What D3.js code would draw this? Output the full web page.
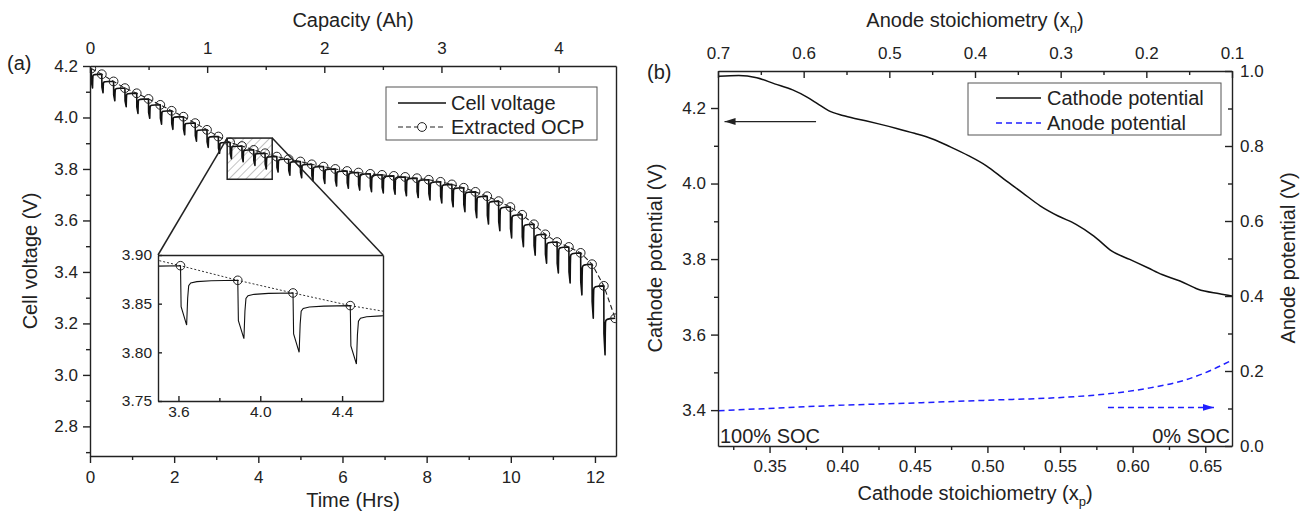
<!DOCTYPE html>
<html>
<head>
<meta charset="utf-8">
<script src="https://cdn.jsdelivr.net/npm/d3@7"></script>
<style>
  body { margin: 0; background: #fff; }
  svg { display: block; }
</style>
</head>
<body>
<div id="chart"></div>
<script>
// ---------- panel (a): GITT discharge ----------
// time (hrs) of each OCP point (one per rest, last one at the end of test)
const ocpTime = [0.03, 0.28, 0.56, 0.83, 1.11, 1.39, 1.67, 1.94, 2.22, 2.50,
  2.78, 3.05, 3.33, 3.61, 3.89, 4.16, 4.44, 4.72, 5.00, 5.27,
  5.55, 5.83, 6.11, 6.38, 6.66, 6.94, 7.22, 7.49, 7.77, 8.05,
  8.33, 8.60, 8.88, 9.16, 9.44, 9.71, 9.99, 10.27, 10.55, 10.82,
  11.10, 11.38, 11.66, 11.93, 12.21, 12.48]
const ocpVolt = [4.190, 4.168, 4.140, 4.114, 4.094, 4.072, 4.049, 4.026, 4.003, 3.978,
  3.952, 3.926, 3.903, 3.889, 3.874, 3.861, 3.848, 3.838, 3.829, 3.818,
  3.809, 3.800, 3.792, 3.786, 3.781, 3.777, 3.773, 3.769, 3.764, 3.758,
  3.750, 3.740, 3.727, 3.711, 3.694, 3.675, 3.652, 3.622, 3.585, 3.546,
  3.516, 3.497, 3.474, 3.430, 3.346, 3.220]
// lowest voltage reached during each current pulse
const pulseMin = [4.115, 4.096, 4.065, 4.042, 4.016, 3.997, 3.974, 3.954, 3.933, 3.908,
  3.884, 3.861, 3.840, 3.828, 3.814, 3.800, 3.788, 3.776, 3.766, 3.754,
  3.744, 3.734, 3.725, 3.718, 3.712, 3.707, 3.702, 3.696, 3.689, 3.680,
  3.668, 3.653, 3.634, 3.611, 3.586, 3.560, 3.532, 3.498, 3.465, 3.434,
  3.396, 3.357, 3.311, 3.220, 3.078]
// pulse / relaxation shape (hrs after pulse start, fraction of step)
const dropDt = [0, 0.003, 0.030]
const dropFrac = [0, 0.69, 1]
const relaxDt = [0.035, 0.040, 0.050, 0.080, 0.150]
const relaxFrac = [0.60, 0.88, 0.94, 0.97, 0.99]

const timeTicks = [0, 2, 4, 6, 8, 10, 12]
const timeMinor = [1, 3, 5, 7, 9, 11]
const capTicks = [0, 1, 2, 3, 4]
const capMinor = [0.5, 1.5, 2.5, 3.5]
const voltTicks = [2.8, 3.0, 3.2, 3.4, 3.6, 3.8, 4.0, 4.2]
const voltMinor = [2.7, 2.9, 3.1, 3.3, 3.5, 3.7, 3.9, 4.1]
const zoomTime = [3.26, 4.33]
const zoomVolt = [3.76, 3.92]
const insetTime = [3.5, 4.6]
const insetVolt = [3.75, 3.90]
const insetTimeTicks = [3.6, 4.0, 4.4]
const insetTimeMinor = [3.8, 4.2]
const insetVoltTicks = [3.75, 3.80, 3.85, 3.90]

// ---------- panel (b): electrode potentials ----------
const cathX = [0.3152, 0.3288, 0.3412, 0.3535, 0.3659, 0.3758, 0.3832, 0.3906, 0.4004, 0.4128,
  0.4251, 0.4375, 0.4498, 0.4622, 0.4745, 0.4869, 0.4993, 0.5116, 0.5240, 0.5363,
  0.5487, 0.5610, 0.5733, 0.5857, 0.5980, 0.6104, 0.6202, 0.6326, 0.6450, 0.6598, 0.6684]
const cathV = [4.284, 4.286, 4.280, 4.264, 4.248, 4.229, 4.211, 4.193, 4.180, 4.169,
  4.158, 4.146, 4.133, 4.118, 4.097, 4.074, 4.047, 4.011, 3.976, 3.941,
  3.914, 3.892, 3.861, 3.821, 3.799, 3.777, 3.759, 3.742, 3.720, 3.708, 3.702]
const anodeX = [0.3149, 0.3486, 0.4013, 0.4510, 0.4998, 0.5534, 0.5827, 0.6120, 0.6354, 0.6498, 0.6684]
const anodeV = [0.094, 0.100, 0.109, 0.115, 0.122, 0.130, 0.139, 0.155, 0.175, 0.195, 0.229]
const cathTicks = [0.35, 0.40, 0.45, 0.50, 0.55, 0.60, 0.65]
const cathMinor = [0.325, 0.375, 0.425, 0.475, 0.525, 0.575, 0.625]
const anTicks = [0.7, 0.6, 0.5, 0.4, 0.3, 0.2, 0.1]
const anMinor = [0.65, 0.55, 0.45, 0.35, 0.25, 0.15]
const cathVTicks = [3.4, 3.6, 3.8, 4.0, 4.2]
const cathVMinor = [3.5, 3.7, 3.9, 4.1]
const anVTicks = [0.0, 0.2, 0.4, 0.6, 0.8, 1.0]
const anVMinor = [0.1, 0.3, 0.5, 0.7, 0.9]
const cathArrowX = [0.382, 0.319], cathArrowV = 4.164
const anodeArrowX = [0.583, 0.656], anodeArrowV = 0.103

// ---------- setup ----------
const W = 1303, H = 513
const ink = '#222'
const blue = '#1f1fff'
const font = '"Liberation Sans", Arial, sans-serif'

const svg = d3.select('#chart').append('svg')
  .attr('width', W).attr('height', H)
  .attr('font-family', font)
svg.append('rect').attr('width', W).attr('height', H).attr('fill', '#fff')

const xTime = d3.scaleLinear([0, 12.5], [90, 616])
const xCap = d3.scaleLinear([0, 4.49], [90, 616])
const yVolt = d3.scaleLinear([2.685, 4.2], [456, 66])
const xIn = d3.scaleLinear(insetTime, [158, 383])
const yIn = d3.scaleLinear(insetVolt, [401, 255])

const xCath = d3.scaleLinear([0.3145, 0.6684], [718, 1232])
const xAn = d3.scaleLinear([0.7, 0.1], [718, 1232])
const yCath = d3.scaleLinear([3.305, 4.298], [446, 71])
const yAn = d3.scaleLinear([0, 1], [446, 71])

const defs = svg.append('defs')
const clip = (id, x, y) => defs.append('clipPath').attr('id', id).append('rect')
  .attr('x', x[0]).attr('y', y[1]).attr('width', x[1] - x[0]).attr('height', y[0] - y[1])
clip('clipA', xTime.range(), yVolt.range())
clip('clipIn', xIn.range(), yIn.range())
clip('clipB', xCath.range(), yCath.range())

const hatch = defs.append('pattern').attr('id', 'hatch')
  .attr('patternUnits', 'userSpaceOnUse').attr('width', 6).attr('height', 6)
  .attr('patternTransform', 'rotate(45)')
hatch.append('line').attr('x1', 0).attr('y1', 0).attr('x2', 0).attr('y2', 6)
  .attr('stroke', '#9a9a9a').attr('stroke-width', 1.2)

const marker = (id, color) => defs.append('marker').attr('id', id)
  .attr('markerUnits', 'userSpaceOnUse').attr('markerWidth', 12).attr('markerHeight', 8)
  .attr('refX', 11).attr('refY', 4).attr('orient', 'auto')
  .append('path').attr('d', 'M0,0.5 L11,4 L0,7.5 z').attr('fill', color)
marker('arrowK', ink)
marker('arrowB', blue)

// axis helper: outward / inward ticks with minor ticks
function axis(orient, scale, tr, major, minor, inward, fmt, pad, size = 17, len = 7, mlen = 4) {
  const s = inward ? -1 : 1
  const g = svg.append('g').attr('transform', tr)
  g.call(orient(scale).tickValues(major).tickSizeInner(s * len).tickSizeOuter(0)
    .tickPadding(pad).tickFormat(fmt))
  if (minor.length) {
    g.append('g').call(orient(scale).tickValues(minor).tickSizeInner(s * mlen)
      .tickSizeOuter(0).tickFormat(''))
      .call(m => m.select('.domain').remove())
  }
  g.attr('font-size', size).attr('font-family', font)
  g.selectAll('.domain').attr('stroke', ink).attr('stroke-width', 1.4)
  g.selectAll('line').attr('stroke', ink).attr('stroke-width', 1.4)
  g.selectAll('text').attr('fill', ink)
  return g
}
const plain = (orient, scale, tr) => axis(orient, scale, tr, [], [], false, '', 0)

const f1 = d3.format('.1f'), f2 = d3.format('.2f'), f0 = d3.format('d')

// ---------- panel (a) ----------
// cell voltage trace built from OCP / pulse minima and the pulse shape
const cell = []
ocpTime.forEach((t, i) => {
  if (i === ocpTime.length - 1) { cell.push([t, ocpVolt[i]]); return }
  const v0 = ocpVolt[i], vm = pulseMin[i], v1 = ocpVolt[i + 1]
  dropDt.forEach((d, j) => cell.push([t + d, v0 - dropFrac[j] * (v0 - vm)]))
  relaxDt.forEach((d, j) => cell.push([t + d, vm + relaxFrac[j] * (v1 - vm)]))
})
const ocp = ocpTime.map((t, i) => [t, ocpVolt[i]])

// zoom rectangle (hatched)
svg.append('rect')
  .attr('x', xTime(zoomTime[0])).attr('y', yVolt(zoomVolt[1]))
  .attr('width', xTime(zoomTime[1]) - xTime(zoomTime[0]))
  .attr('height', yVolt(zoomVolt[0]) - yVolt(zoomVolt[1]))
  .attr('fill', 'url(#hatch)')

const pa = svg.append('g').attr('clip-path', 'url(#clipA)')
const lineA = d3.line().x(d => xTime(d[0])).y(d => yVolt(d[1]))
pa.append('path').attr('d', lineA(cell)).attr('fill', 'none')
  .attr('stroke', '#111').attr('stroke-width', 1.6).attr('stroke-linejoin', 'round')
pa.append('path').attr('d', lineA(ocp)).attr('fill', 'none')
  .attr('stroke', ink).attr('stroke-width', 1.1).attr('stroke-dasharray', '5,3')
pa.selectAll('circle').data(ocp).join('circle')
  .attr('cx', d => xTime(d[0])).attr('cy', d => yVolt(d[1])).attr('r', 4.4)
  .attr('fill', 'none').attr('stroke', ink).attr('stroke-width', 1)

svg.append('rect')
  .attr('x', xTime(zoomTime[0])).attr('y', yVolt(zoomVolt[1]))
  .attr('width', xTime(zoomTime[1]) - xTime(zoomTime[0]))
  .attr('height', yVolt(zoomVolt[0]) - yVolt(zoomVolt[1]))
  .attr('fill', 'none').attr('stroke', ink).attr('stroke-width', 1.5)

// connector lines to the inset
const conn = [[zoomTime[0], insetTime[0]], [zoomTime[1], insetTime[1]]]
svg.selectAll('.conn').data(conn).join('line')
  .attr('x1', d => xTime(d[0])).attr('y1', yVolt(zoomVolt[1]))
  .attr('x2', d => xIn(d[1])).attr('y2', yIn(insetVolt[1]))
  .attr('stroke', ink).attr('stroke-width', 1.5)

// axes (a)
axis(d3.axisBottom, xTime, `translate(0,${yVolt.range()[0]})`, timeTicks, timeMinor, false, f0, 8)
axis(d3.axisTop, xCap, `translate(0,${yVolt.range()[1]})`, capTicks, capMinor, true, f0, 12)
axis(d3.axisLeft, yVolt, `translate(${xTime.range()[0]},0)`, voltTicks, voltMinor, false, f1, 5)
plain(d3.axisRight, yVolt, `translate(${xTime.range()[1]},0)`)

// inset
svg.append('rect').attr('x', xIn.range()[0]).attr('y', yIn.range()[1])
  .attr('width', xIn.range()[1] - xIn.range()[0]).attr('height', yIn.range()[0] - yIn.range()[1])
  .attr('fill', '#fff')
const pi = svg.append('g').attr('clip-path', 'url(#clipIn)')
const lineIn = d3.line().x(d => xIn(d[0])).y(d => yIn(d[1]))
pi.append('path').attr('d', lineIn(ocp)).attr('fill', 'none')
  .attr('stroke', '#333').attr('stroke-width', 1).attr('stroke-dasharray', '2,2')
pi.append('path').attr('d', lineIn(cell)).attr('fill', 'none')
  .attr('stroke', '#111').attr('stroke-width', 1.1)
pi.selectAll('circle').data(ocp).join('circle')
  .attr('cx', d => xIn(d[0])).attr('cy', d => yIn(d[1])).attr('r', 4.3)
  .attr('fill', 'none').attr('stroke', ink).attr('stroke-width', 1)
axis(d3.axisBottom, xIn, `translate(0,${yIn.range()[0]})`, insetTimeTicks, insetTimeMinor, true, f1, 5, 15.5, 5, 3)
axis(d3.axisLeft, yIn, `translate(${xIn.range()[0]},0)`, insetVoltTicks, [], true, f2, 6, 15.5, 4, 3)
plain(d3.axisTop, xIn, `translate(0,${yIn.range()[1]})`)
plain(d3.axisRight, yIn, `translate(${xIn.range()[1]},0)`)

// legend (a)
const la = svg.append('g')
la.append('rect').attr('x', 386).attr('y', 87).attr('width', 211).attr('height', 53)
  .attr('fill', '#fff').attr('stroke', '#555').attr('stroke-width', 1)
la.append('line').attr('x1', 398).attr('x2', 446).attr('y1', 103).attr('y2', 103)
  .attr('stroke', '#111').attr('stroke-width', 1.5)
la.append('line').attr('x1', 398).attr('x2', 446).attr('y1', 127).attr('y2', 127)
  .attr('stroke', ink).attr('stroke-width', 1.1).attr('stroke-dasharray', '5,3')
la.append('circle').attr('cx', 422).attr('cy', 127).attr('r', 4.4)
  .attr('fill', '#fff').attr('stroke', ink)
la.selectAll('text').data(['Cell voltage', 'Extracted OCP']).join('text')
  .attr('x', 451).attr('y', (d, i) => 103 + i * 24).attr('dy', '0.35em')
  .attr('font-size', 20).attr('fill', ink).text(d => d)

// titles (a)
const title = (x, y, txt, rot = 0) => svg.append('text')
  .attr('transform', `translate(${x},${y}) rotate(${rot})`)
  .attr('text-anchor', 'middle').attr('dy', '0.35em')
  .attr('font-size', 20).attr('fill', ink).text(txt)
title(353, 20, 'Capacity (Ah)')
title(353, 500, 'Time (Hrs)')
title(30, 261, 'Cell voltage (V)', -90)
svg.append('text').attr('x', 7).attr('y', 63).attr('dy', '0.35em')
  .attr('font-size', 20).attr('fill', ink).text('(a)')

// ---------- panel (b) ----------
const pb = svg.append('g').attr('clip-path', 'url(#clipB)')
pb.append('path')
  .attr('d', d3.line().x(d => xCath(d[0])).y(d => yCath(d[1])).curve(d3.curveMonotoneX)(cathX.map((x, i) => [x, cathV[i]])))
  .attr('fill', 'none').attr('stroke', '#111').attr('stroke-width', 1.5)
pb.append('path')
  .attr('d', d3.line().x(d => xCath(d[0])).y(d => yAn(d[1])).curve(d3.curveMonotoneX)(anodeX.map((x, i) => [x, anodeV[i]])))
  .attr('fill', 'none').attr('stroke', blue).attr('stroke-width', 1.5).attr('stroke-dasharray', '6,4')

// direction arrows
svg.append('line').attr('x1', xCath(cathArrowX[0])).attr('x2', xCath(cathArrowX[1]))
  .attr('y1', yCath(cathArrowV)).attr('y2', yCath(cathArrowV))
  .attr('stroke', ink).attr('stroke-width', 1.4).attr('marker-end', 'url(#arrowK)')
svg.append('line').attr('x1', xCath(anodeArrowX[0])).attr('x2', xCath(anodeArrowX[1]))
  .attr('y1', yAn(anodeArrowV)).attr('y2', yAn(anodeArrowV))
  .attr('stroke', blue).attr('stroke-width', 1.5).attr('stroke-dasharray', '6,4')
  .attr('marker-end', 'url(#arrowB)')

// axes (b)
axis(d3.axisBottom, xCath, `translate(0,${yCath.range()[0]})`, cathTicks, cathMinor, false, f2, 7)
axis(d3.axisTop, xAn, `translate(0,${yCath.range()[1]})`, anTicks, anMinor, true, f1, 12)
axis(d3.axisLeft, yCath, `translate(${xCath.range()[0]},0)`, cathVTicks, cathVMinor, false, f1, 5)
axis(d3.axisRight, yAn, `translate(${xCath.range()[1]},0)`, anVTicks, anVMinor, true, f1, 8)

// legend (b)
const lb = svg.append('g')
lb.append('rect').attr('x', 968).attr('y', 83).attr('width', 253).attr('height', 52)
  .attr('fill', '#fff').attr('stroke', '#555').attr('stroke-width', 1)
lb.append('line').attr('x1', 996).attr('x2', 1041).attr('y1', 98).attr('y2', 98)
  .attr('stroke', '#111').attr('stroke-width', 1.5)
lb.append('line').attr('x1', 996).attr('x2', 1041).attr('y1', 123).attr('y2', 123)
  .attr('stroke', blue).attr('stroke-width', 1.5).attr('stroke-dasharray', '6,4')
lb.selectAll('text').data(['Cathode potential', 'Anode potential']).join('text')
  .attr('x', 1047).attr('y', (d, i) => 98 + i * 25).attr('dy', '0.35em')
  .attr('font-size', 20).attr('fill', ink).text(d => d)

// SOC labels
svg.append('text').attr('x', 720).attr('y', 443).attr('font-size', 20).attr('fill', ink).text('100% SOC')
svg.append('text').attr('x', 1230).attr('y', 443).attr('text-anchor', 'end')
  .attr('font-size', 20).attr('fill', ink).text('0% SOC')

// titles (b) with subscripts
function subTitle(x, y, main, sub) {
  const t = svg.append('text').attr('x', x).attr('y', y).attr('text-anchor', 'middle')
    .attr('dy', '0.35em').attr('font-size', 20).attr('fill', ink)
  t.append('tspan').text(main + ' (x')
  t.append('tspan').attr('font-size', 13).attr('dy', 6).text(sub)
  t.append('tspan').attr('dy', -6).text(')')
}
subTitle(975, 20, 'Anode stoichiometry', 'n')
subTitle(975, 493, 'Cathode stoichiometry', 'p')
title(655, 258, 'Cathode potential (V)', -90)
title(1288, 258, 'Anode potential (V)', -90)
svg.append('text').attr('x', 647).attr('y', 72).attr('dy', '0.35em')
  .attr('font-size', 20).attr('fill', ink).text('(b)')
</script>
</body>
</html>
